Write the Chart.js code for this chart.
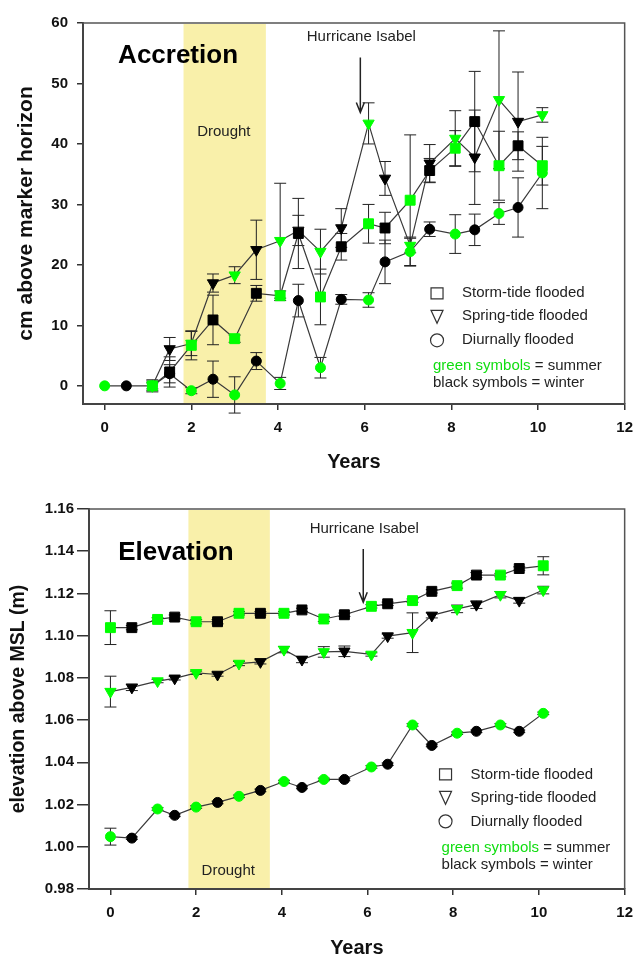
<!DOCTYPE html>
<html>
<head>
<meta charset="utf-8">
<script src="https://cdn.jsdelivr.net/npm/chart.js@4.4.1/dist/chart.umd.min.js"></script>
<style>
  body { margin: 0; background: #fff; }
  canvas { display: block; }
</style>
</head>
<body>
<canvas id="accretion" width="642" height="479"></canvas>
<canvas id="elevation" width="642" height="479"></canvas>
<script>
// sampling dates (years since start) and season of each sample
const years = [0, 0.5, 1.1, 1.5, 2.0, 2.5, 3.0, 3.5, 4.05, 4.47, 4.98, 5.46, 6.09, 6.47, 7.05, 7.5, 8.09, 8.54, 9.1, 9.54, 10.1];
const season = ['summer', 'winter', 'summer', 'winter', 'summer', 'winter', 'summer', 'winter', 'summer', 'winter', 'summer',
                'winter', 'summer', 'winter', 'summer', 'winter', 'summer', 'winter', 'summer', 'winter', 'summer'];

const xTicks = [0, 2, 4, 6, 8, 10, 12];
const accTicks = [0, 10, 20, 30, 40, 50, 60];
const elvTicks = [0.98, 1.00, 1.02, 1.04, 1.06, 1.08, 1.10, 1.12, 1.14, 1.16];

const drought = [1.82, 3.72];
const hurricane = 5.9;
const seriesNames = ['Storm-tide flooded', 'Spring-tide flooded', 'Diurnally flooded'];

// accretion, cm above marker horizon
const accStorm      = [null, null, 0, 2.3, 6.7, 10.9, 7.8, 15.3, 14.9, 25.2, 14.7, 23.0, 26.8, 26.1, 30.7, 35.6, 39.3, 43.7, 36.4, 39.7, 36.4];
const accStormErr   = [null, null, 1.0, 2.5, 2.4, 4.1, 0.6, 1.3, 0.8, 5.8, 4.6, 2.2, 3.2, 2.6, 10.8, 2.0, 2.9, 8.3, 5.7, 2.3, 3.2];
const accSpring     = [null, null, 0, 6.1, 7.0, 17.0, 18.3, 22.5, 24.0, 25.7, 22.2, 26.1, 43.4, 34.3, 23.2, 36.8, 40.9, 37.8, 47.3, 43.7, 44.8];
const accSpringErr  = [null, null, 0.8, 1.9, 2.0, 1.5, 1.4, 4.9, 9.5, 2.5, 3.7, 3.2, 3.4, 2.8, 1.2, 3.1, 4.6, 7.8, 11.4, 8.2, 1.2];
const accDiurnal    = [0, 0, 0, 2.0, -0.8, 1.1, -1.5, 4.1, 0.4, 14.1, 3.0, 14.3, 14.2, 20.5, 22.2, 25.9, 25.1, 25.8, 28.5, 29.5, 35.2];
const accDiurnalErr = [0, 0, 0.5, 1.5, 0.5, 3.0, 3.0, 1.4, 1.0, 2.7, 1.7, 0.8, 1.2, 3.6, 2.4, 1.2, 3.2, 2.6, 1.8, 4.9, 5.9];

// elevation above MSL, m
const elvStorm      = [1.1038, 1.1038, 1.1077, 1.1088, 1.1066, 1.1066, 1.1106, 1.1106, 1.1106, 1.1122, 1.1079, 1.1099, 1.1139, 1.1151, 1.1166, 1.1210, 1.1237, 1.1287, 1.1287, 1.1318, 1.1331];
const elvStormErr   = [0.008, 0.001, 0.0008, 0.001, 0.001, 0.001, 0.0008, 0.0008, 0.0008, 0.0008, 0.0012, 0.0008, 0.0008, 0.0008, 0.0008, 0.0008, 0.0012, 0.0012, 0.0008, 0.0008, 0.0043];
const elvSpring     = [1.0735, 1.0755, 1.0785, 1.0798, 1.0824, 1.0816, 1.0868, 1.0876, 1.0934, 1.0887, 1.0923, 1.0926, 1.0911, 1.0998, 1.1014, 1.1096, 1.1127, 1.1147, 1.1194, 1.1166, 1.1216];
const elvSpringErr  = [0.0073, 0.0015, 0.0008, 0.0008, 0.0008, 0.0008, 0.001, 0.001, 0.0015, 0.0015, 0.0025, 0.0025, 0.0008, 0.001, 0.0094, 0.0012, 0.0018, 0.0018, 0.0015, 0.0012, 0.0018];
const elvDiurnal    = [1.0048, 1.0041, 1.0179, 1.0149, 1.0188, 1.0210, 1.0239, 1.0267, 1.0309, 1.0281, 1.0319, 1.0319, 1.0378, 1.0391, 1.0577, 1.0480, 1.0538, 1.0547, 1.0577, 1.0547, 1.0632];
const elvDiurnalErr = [0.004, 0.0006, 0.0006, 0.0006, 0.0006, 0.0006, 0.0006, 0.0006, 0.0006, 0.0006, 0.0006, 0.0006, 0.0006, 0.0006, 0.0006, 0.0006, 0.0006, 0.0006, 0.0006, 0.0006, 0.0006];

const GREEN = '#00ff00';
const BLACK = '#000000';
const FONT = 'Arial, "Liberation Sans", sans-serif';

function series(label, vals, errs, style, radius, order) {
  const colors = season.map(s => s === 'summer' ? GREEN : BLACK);
  return {
    label: label,
    order: order,
    data: years.map((x, i) => ({ x: x, y: vals[i] })),
    errors: errs,
    borderColor: '#3a3a3a',
    borderWidth: 1.2,
    pointStyle: style,
    pointRotation: style === 'triangle' ? 180 : 0,
    pointRadius: radius,
    pointBackgroundColor: colors,
    pointBorderColor: colors,
    pointBorderWidth: 1,
    fill: false,
    tension: 0
  };
}

// drought band, error bars, annotations, legend and frame
const notesPlugin = {
  id: 'notes',
  beforeDatasetsDraw(chart, args, opts) {
    const { ctx, chartArea: a } = chart;
    const x = chart.scales.x, y = chart.scales.y;
    ctx.save();
    const x0 = x.getPixelForValue(drought[0]);
    const x1 = x.getPixelForValue(drought[1]);
    ctx.fillStyle = '#f9f0aa';
    ctx.fillRect(x0, a.top + 1, x1 - x0, a.bottom - a.top - 2);

    ctx.fillStyle = '#222';
    ctx.font = '15px ' + FONT;
    ctx.textAlign = 'center';
    ctx.textBaseline = 'middle';
    ctx.fillText('Drought', x.getPixelForValue(opts.droughtLabelAt[0]), y.getPixelForValue(opts.droughtLabelAt[1]));

    // error bars
    ctx.strokeStyle = '#222';
    ctx.lineWidth = 1;
    chart.data.datasets.forEach((ds, di) => {
      const meta = chart.getDatasetMeta(di);
      meta.data.forEach((pt, i) => {
        const v = ds.data[i].y, e = ds.errors[i];
        if (v == null || !e) return;
        const top = y.getPixelForValue(v + e);
        const bot = y.getPixelForValue(v - e);
        ctx.beginPath();
        ctx.moveTo(pt.x, top); ctx.lineTo(pt.x, bot);
        ctx.moveTo(pt.x - 6, top); ctx.lineTo(pt.x + 6, top);
        ctx.moveTo(pt.x - 6, bot); ctx.lineTo(pt.x + 6, bot);
        ctx.stroke();
      });
    });
    ctx.restore();
  },
  afterDatasetsDraw(chart, args, opts) {
    const { ctx, chartArea: a } = chart;
    const x = chart.scales.x, y = chart.scales.y;
    ctx.save();

    // frame top / right
    ctx.strokeStyle = '#555';
    ctx.lineWidth = 1.5;
    ctx.beginPath();
    ctx.moveTo(a.left, a.top); ctx.lineTo(a.right, a.top); ctx.lineTo(a.right, a.bottom);
    ctx.stroke();

    // panel title
    ctx.fillStyle = '#000';
    ctx.font = 'bold 26px ' + FONT;
    ctx.textAlign = 'left';
    ctx.textBaseline = 'middle';
    ctx.fillText(opts.title, x.getPixelForValue(opts.titleAt[0]), y.getPixelForValue(opts.titleAt[1]));

    // hurricane marker
    const hx = x.getPixelForValue(hurricane);
    ctx.fillStyle = '#222';
    ctx.font = '15px ' + FONT;
    ctx.textAlign = 'center';
    ctx.fillText('Hurricane Isabel', hx + 1, y.getPixelForValue(opts.hurricaneText));
    const ay0 = y.getPixelForValue(opts.arrow[0]);
    const ay1 = y.getPixelForValue(opts.arrow[1]);
    ctx.strokeStyle = '#222';
    ctx.lineWidth = 1.5;
    ctx.beginPath();
    ctx.moveTo(hx, ay0); ctx.lineTo(hx, ay1);
    ctx.moveTo(hx - 4, ay1 - 10); ctx.lineTo(hx, ay1); ctx.lineTo(hx + 4, ay1 - 10);
    ctx.stroke();

    // legend
    const mx = x.getPixelForValue(opts.legendAt[0]);
    const my = y.getPixelForValue(opts.legendAt[1]);
    const rows = [0, 23, 47];
    ctx.strokeStyle = '#333';
    ctx.lineWidth = 1.2;
    ctx.beginPath();
    ctx.rect(mx - 6, my - 5.5, 12, 11);
    ctx.moveTo(mx - 6, my + rows[1] - 6); ctx.lineTo(mx + 6, my + rows[1] - 6); ctx.lineTo(mx, my + rows[1] + 7); ctx.closePath();
    ctx.moveTo(mx + 6.5, my + rows[2]);
    ctx.arc(mx, my + rows[2], 6.5, 0, Math.PI * 2);
    ctx.stroke();

    ctx.fillStyle = '#222';
    ctx.textAlign = 'left';
    seriesNames.forEach((name, i) => ctx.fillText(name, mx + 25, my + rows[i]));

    const gx = mx - 4;
    ctx.fillStyle = '#11dd11';
    ctx.fillText('green symbols', gx, my + 73);
    const gw = ctx.measureText('green symbols').width;
    ctx.fillStyle = '#222';
    ctx.fillText(' = summer', gx + gw, my + 73);
    ctx.fillText('black symbols = winter', gx, my + 90);
    ctx.restore();
  }
};

function makeChart(id, datasets, yCfg, notes, layout) {
  return new Chart(document.getElementById(id), {
    type: 'line',
    data: { datasets: datasets },
    plugins: [notesPlugin],
    options: {
      responsive: false,
      animation: false,
      devicePixelRatio: 1,
      layout: { padding: { top: layout.top, right: layout.right, left: 0, bottom: 0 } },
      plugins: {
        legend: { display: false },
        tooltip: { enabled: false },
        notes: notes
      },
      scales: {
        x: {
          type: 'linear',
          min: -0.5,
          max: 12,
          afterBuildTicks: s => { s.ticks = xTicks.map(v => ({ value: v })); },
          afterFit: s => { s.height = layout.xHeight; },
          grid: { drawOnChartArea: false, tickLength: 6, color: '#333', lineWidth: 1.5 },
          border: { color: '#444', width: 2 },
          ticks: { autoSkip: false, maxRotation: 0, padding: 9, color: '#111', font: { family: FONT, size: 15, weight: 'bold' } },
          title: { display: true, text: 'Years', color: '#111', padding: { top: 0, bottom: layout.xTitlePad },
                   font: { family: FONT, size: 20, weight: 'bold', lineHeight: 1 } }
        },
        y: {
          min: yCfg.min,
          max: yCfg.max,
          afterBuildTicks: s => { s.ticks = yCfg.ticks.map(v => ({ value: v })); },
          afterFit: s => { s.width = layout.yWidth; },
          grid: { drawOnChartArea: false, tickLength: layout.yTick, color: '#333', lineWidth: 1.5 },
          border: { color: '#444', width: 2 },
          ticks: { padding: layout.yTickPad, color: '#111', callback: yCfg.format,
                   font: { family: FONT, size: 15, weight: 'bold' } },
          title: { display: true, text: yCfg.title, color: '#111', padding: { top: layout.yTitlePad, bottom: 0 },
                   font: { family: FONT, size: layout.yTitleSize, weight: 'bold', lineHeight: 1 } }
        }
      }
    }
  });
}

makeChart('accretion', [
  series(seriesNames[0], accStorm, accStormErr, 'rect', 7, 1),
  series(seriesNames[1], accSpring, accSpringErr, 'triangle', 6.5, 2),
  series(seriesNames[2], accDiurnal, accDiurnalErr, 'circle', 5, 3)
], {
  min: -3, max: 60, ticks: accTicks, title: 'cm above marker horizon',
  format: v => String(v)
}, {
  title: 'Accretion', titleAt: [0.31, 54.5],
  droughtLabelAt: [2.75, 42],
  hurricaneText: 57.7, arrow: [54.3, 45.2],
  legendAt: [7.67, 15.3]
}, { top: 23, right: 16, xHeight: 75, yWidth: 83, yTick: 6, yTickPad: 9, xTitlePad: 7, yTitlePad: 16, yTitleSize: 21 });

makeChart('elevation', [
  series(seriesNames[0], elvStorm, elvStormErr, 'rect', 7, 1),
  series(seriesNames[1], elvSpring, elvSpringErr, 'triangle', 6.5, 2),
  series(seriesNames[2], elvDiurnal, elvDiurnalErr, 'circle', 5, 3)
], {
  min: 0.98, max: 1.16, ticks: elvTicks, title: 'elevation above MSL (m)',
  format: v => v.toFixed(2)
}, {
  title: 'Elevation', titleAt: [0.18, 1.1393],
  droughtLabelAt: [2.75, 0.9884],
  hurricaneText: 1.1506, arrow: [1.1411, 1.1158],
  legendAt: [7.82, 1.0343]
}, { top: 30, right: 9, xHeight: 69, yWidth: 89, yTick: 12, yTickPad: 3, xTitlePad: 0, yTitlePad: 9, yTitleSize: 19.5 });
</script>
</body>
</html>
